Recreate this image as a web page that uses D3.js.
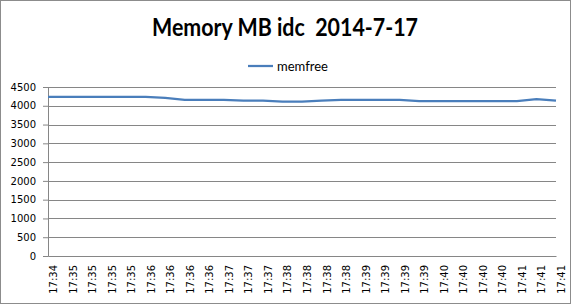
<!DOCTYPE html>
<html>
<head>
<meta charset="utf-8">
<script src="https://cdn.jsdelivr.net/npm/d3@7"></script>
<style>
  body { margin: 0; background: #fff; }
  svg { display: block; }
</style>
</head>
<body>
<svg></svg>
<script>
// x labels (one per sample)
let times = ['17:34','17:35','17:35','17:35','17:35','17:36','17:36','17:36','17:36',
             '17:37','17:37','17:37','17:38','17:38','17:38','17:38','17:39','17:39',
             '17:39','17:39','17:40','17:40','17:40','17:40','17:41','17:41','17:41']
// memfree in MB
let memfree = [4240,4240,4240,4240,4240,4240,4210,4160,4160,4160,4135,4135,4110,4110,
               4140,4155,4155,4155,4155,4125,4125,4125,4125,4125,4125,4180,4135]
let yTicks = [0,500,1000,1500,2000,2500,3000,3500,4000,4500]

let width = 572
let height = 305
let plotLeft = 48
let plotRight = 556
let plotTop = 87
let plotBottom = 256

let svg = d3.select('svg')
    .attr('width', width)
    .attr('height', height)

// outer chart border
svg.append('rect')
    .attr('x', 0.5).attr('y', 0.5)
    .attr('width', 570).attr('height', 303)
    .attr('fill', '#fff')
    .attr('stroke', '#8c8c8c')

let xScale = d3.scalePoint()
    .domain(d3.range(times.length))
    .range([plotLeft, plotRight])

let yScale = d3.scaleLinear()
    .domain([0, 4500])
    .range([plotBottom, plotTop])

// y axis labels + small outer ticks
let yAxis = d3.axisLeft(yScale)
    .tickValues(yTicks)
    .tickFormat(d3.format('d'))
    .tickSize(5)
    .tickPadding(7)

let gy = svg.append('g')
    .attr('transform', 'translate(' + plotLeft + ',0)')
    .call(yAxis)
gy.select('.domain').attr('stroke', '#868686')
gy.selectAll('.tick line').attr('stroke', '#868686')
gy.selectAll('.tick text')
    .attr('font-family', "'DejaVu Sans', Verdana, sans-serif")
    .attr('font-size', 10)
    .attr('fill', '#000')

// horizontal gridlines
svg.append('g')
    .selectAll('line')
    .data(yTicks.filter(d => d > 0))
    .enter()
    .append('line')
    .attr('x1', plotLeft)
    .attr('x2', plotRight)
    .attr('y1', d => Math.round(yScale(d)) + 0.5)
    .attr('y2', d => Math.round(yScale(d)) + 0.5)
    .attr('stroke', '#868686')

// x axis, labels rotated
let xAxis = d3.axisBottom(xScale)
    .tickFormat(i => times[i])
    .tickSize(0)

let gx = svg.append('g')
    .attr('transform', 'translate(0,' + plotBottom + ')')
    .call(xAxis)
gx.select('.domain').attr('stroke', '#868686')
gx.selectAll('.tick text')
    .attr('font-family', "'DejaVu Sans', Verdana, sans-serif")
    .attr('font-size', 10)
    .attr('fill', '#000')
    .attr('text-anchor', 'end')
    .attr('dy', '0.35em')
    .attr('transform', 'translate(5,9) rotate(-90)')
    .attr('x', 0)
    .attr('y', 0)

// the series line
let line = d3.line()
    .x((d, i) => xScale(i))
    .y(d => yScale(d))

svg.append('path')
    .datum(memfree)
    .attr('d', line)
    .attr('fill', 'none')
    .attr('stroke', '#4a7ebb')
    .attr('stroke-width', 2.25)
    .attr('stroke-linejoin', 'round')

// title
svg.append('text')
    .attr('x', 285)
    .attr('y', 36)
    .attr('text-anchor', 'middle')
    .attr('font-family', 'Lato, sans-serif')
    .attr('font-weight', 'bold')
    .attr('font-size', 24)
    .attr('textLength', 266)
    .attr('lengthAdjust', 'spacingAndGlyphs')
    .style('white-space', 'pre')
    .text('Memory MB idc  2014-7-17')

// legend
svg.append('line')
    .attr('x1', 248).attr('x2', 273)
    .attr('y1', 66).attr('y2', 66)
    .attr('stroke', '#4a7ebb')
    .attr('stroke-width', 2.25)

svg.append('text')
    .attr('x', 277)
    .attr('y', 70.5)
    .attr('font-family', 'Lato, sans-serif')
    .attr('font-size', 13)
    .text('memfree')
</script>
</body>
</html>
